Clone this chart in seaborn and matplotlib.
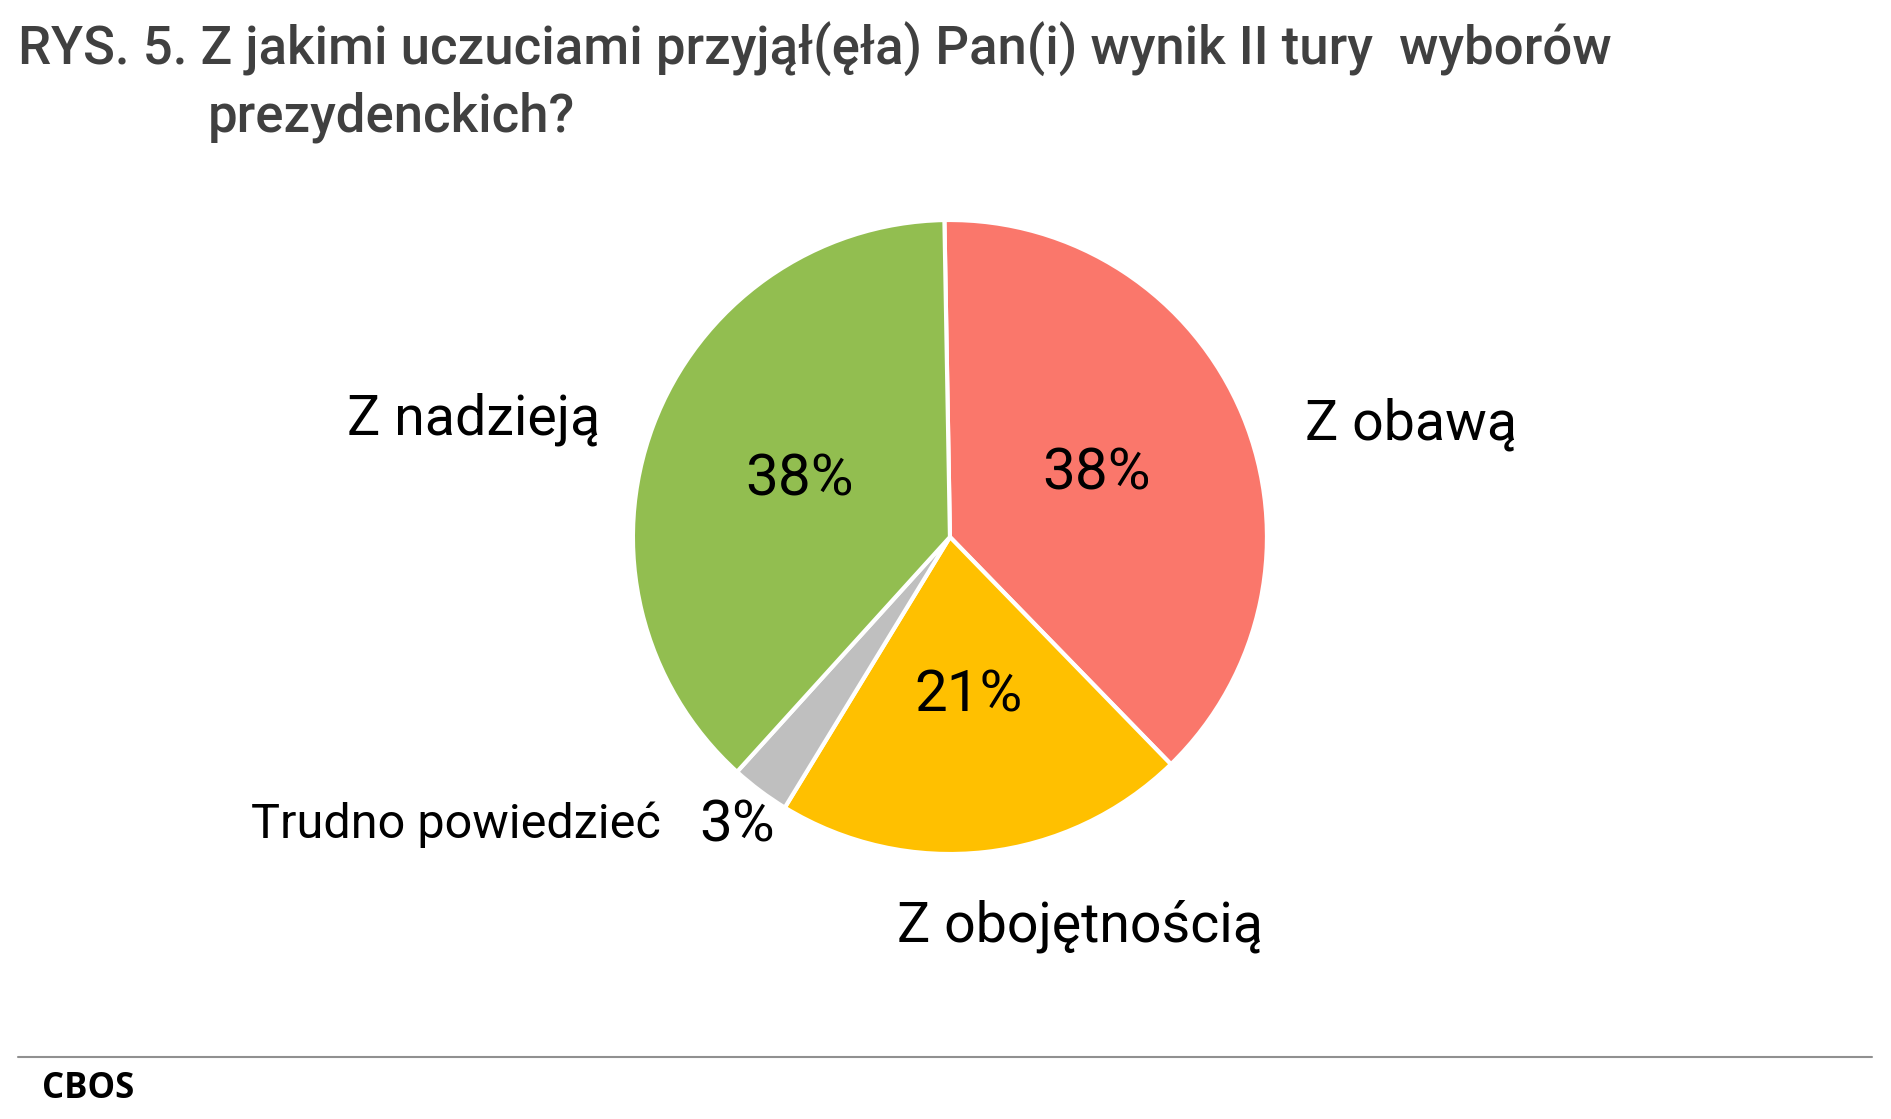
import matplotlib
matplotlib.use("Agg")
import matplotlib.pyplot as plt
import seaborn as sns

sns.set_theme(style="white")
plt.rcParams['font.family'] = ['Roboto', 'DejaVu Sans']

categories = ["Z obawą", "Z obojętnością", "Trudno powiedzieć", "Z nadzieją"]
values = [38, 21, 3, 38]
pct_labels = ["38%", "21%", "3%", "38%"]
colors = ["#FA776B", "#FFC000", "#BFBFBF", "#92BE50"]

fig = plt.figure(figsize=(18.91, 11.19), dpi=100)
ax = fig.add_axes([0.3347, 0.2368, 0.3353, 0.5666])
ax.pie(values, colors=colors, startangle=91, counterclock=False,
       wedgeprops=dict(edgecolor="white", linewidth=3))
ax.set_xlim(-1.0, 1.0)
ax.set_ylim(-1.0, 1.0)
ax.set_aspect("equal")
ax.axis("off")

cat_pos = [(0.746, 0.621, 40), (0.571, 0.172, 40), (0.241, 0.263, 35), (0.2506, 0.625, 40)]
for c, (x, y, s) in zip(categories, cat_pos):
    fig.text(x, y, c, ha="center", va="center", fontsize=s, color="black")
pct_pos = [(0.5797, 0.5765), (0.512, 0.378), (0.390, 0.262), (0.4228, 0.571)]
for p, (x, y) in zip(pct_labels, pct_pos):
    fig.text(x, y, p, ha="center", va="center", fontsize=42, color="black")

fig.text(0.0096, 0.98, "RYS. 5. Z jakimi uczuciami przyjął(ęła) Pan(i) wynik II tury  wyborów",
         ha="left", va="top", fontsize=38, fontweight="medium", color="#404040")
fig.text(0.110, 0.895, "prezydenckich?", ha="left", va="center", fontsize=38,
         fontweight="medium", color="#404040")

fig.add_artist(plt.Line2D([0.0096, 0.99], [0.055, 0.055], color="#909090", linewidth=1.5,
                          transform=fig.transFigure))
fig.text(0.0223, 0.027, "CBOS", ha="left", va="center", fontsize=25, fontweight="bold",
         family=["Open Sans", "DejaVu Sans"], color="black")

fig.savefig("out.png", dpi=100, facecolor="white")
